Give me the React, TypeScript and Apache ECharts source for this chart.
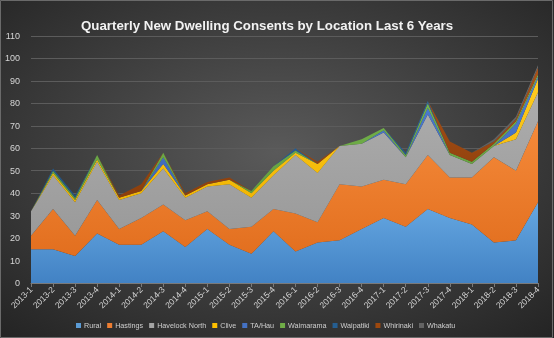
import React, { useEffect, useRef } from "react";
import * as echarts from "echarts";

const quarters = [
  "2013-1", "2013-2", "2013-3", "2013-4",
  "2014-1", "2014-2", "2014-3", "2014-4",
  "2015-1", "2015-2", "2015-3", "2015-4",
  "2016-1", "2016-2", "2016-3", "2016-4",
  "2017-1", "2017-2", "2017-3", "2017-4",
  "2018-1", "2018-2", "2018-3", "2018-4",
];

const rural = [15, 15, 12, 22, 17, 17, 23, 16, 24, 17, 13, 23, 14, 18, 19, 24, 29, 25, 33, 29, 26, 18, 19, 36];
const hastings = [6, 18, 9, 15, 7, 12, 12, 12, 8, 7, 12, 10, 17, 9, 25, 19, 17, 19, 24, 18, 21, 38, 31, 36];
const havelockNorth = [11, 15, 15, 17, 13, 11, 16, 10, 11, 20, 13, 15, 26, 22, 17, 19, 21, 12, 18, 10, 6, 5, 14, 13];
const clive = [0, 1, 1, 1, 1, 1, 2, 1, 1, 2, 2, 2, 1, 4, 0, 0, 0, 0, 0, 0, 0, 0, 3, 6];
const taHau = [0, 0, 0, 0, 0, 0, 3, 0, 0, 0, 0, 0, 0, 0, 0, 0, 1, 0, 3, 0, 0, 0, 4, 1];
const waimarama = [0, 1, 1, 2, 0, 0, 2, 0, 0, 0, 1, 2, 1, 0, 0, 2, 1, 1, 2, 1, 1, 1, 1, 1];
const waipatiki = [0, 1, 1, 0, 0, 0, 0, 0, 0, 0, 0, 0, 1, 0, 0, 0, 0, 1, 1, 0, 0, 0, 0, 0];
const whirinaki = [0, 0, 0, 0, 1, 3, 0, 1, 1, 1, 0, 0, 0, 1, 0, 0, 0, 0, 0, 5, 4, 1, 1, 3];
const whakatu = [0, 0, 0, 0, 0, 0, 0, 0, 0, 0, 0, 0, 0, 0, 0, 0, 0, 0, 0, 0, 0, 1, 1, 1];

const seriesNames = ["Rural", "Hastings", "Havelock North", "Clive", "TA/Hau", "Waimarama", "Waipatiki", "Whirinaki", "Whakatu"];
const seriesData = [rural, hastings, havelockNorth, clive, taHau, waimarama, waipatiki, whirinaki, whakatu];
const seriesColors = ["#5B9BD5", "#ED7D31", "#A5A5A5", "#FFC000", "#4472C4", "#70AD47", "#255E91", "#9E480E", "#636363"];
const topColors = ["#66a8e2", "#f58a3a", "#adadad", "#ffcc22", "#4f7fd4", "#7aba50", "#2d6aa3", "#aa5218", "#6e6e6e"];
const bottomColors = ["#4282c4", "#e26f1f", "#9a9a9a", "#f0b400", "#3a62b0", "#609a3c", "#1f5080", "#8a3d0a", "#575757"];

const yMin = 0;
const yMax = 110;
const yInterval = 10;

export default function App() {
  const ref = useRef<HTMLDivElement>(null);
  useEffect(() => {
    if (!ref.current) return;
    const chart = echarts.init(ref.current, null, { renderer: "svg" });
    const font = "Liberation Sans, Arial, sans-serif";
    chart.setOption({
      animation: false,
      backgroundColor: new echarts.graphic.RadialGradient(0.5, 0.45, 0.75, [
        { offset: 0, color: "#5a5a5a" },
        { offset: 1, color: "#232323" },
      ]),
      title: {
        text: "Quarterly New Dwelling Consents by Location Last 6 Years",
        left: 76,
        top: 14,
        textStyle: { color: "#f2f2f2", fontSize: 13.3, fontWeight: "bold", fontFamily: font },
      },
      grid: { left: 31, right: 16, top: 36, bottom: 55, containLabel: false },
      legend: {
        bottom: 4,
        left: 71,
        itemWidth: 5,
        itemHeight: 5,
        itemGap: 6,
        icon: "rect",
        textStyle: { color: "#cfcfcf", fontSize: 7.2, fontFamily: font, padding: [0, 0, 0, -2] },
        data: seriesNames,
      },
      xAxis: {
        type: "category",
        data: quarters,
        boundaryGap: false,
        axisLine: { show: true, lineStyle: { color: "#7a7a7a" } },
        axisTick: { show: true, alignWithLabel: true, length: 4, lineStyle: { color: "#7a7a7a" } },
        axisLabel: { rotate: 45, color: "#d6d6d6", fontSize: 8.5, fontFamily: font, margin: 5, interval: 0 },
        splitLine: { show: false },
      },
      yAxis: {
        type: "value",
        min: yMin,
        max: yMax,
        interval: yInterval,
        axisLine: { show: false },
        axisTick: { show: false },
        axisLabel: { color: "#d6d6d6", fontSize: 9, fontFamily: font, margin: 11 },
        splitLine: { lineStyle: { color: "#5c5c5c", width: 1 } },
      },
      graphic: [
        {
          type: "rect",
          shape: { x: 0.5, y: 0.5, width: 552, height: 337 },
          style: { fill: "none", stroke: "#6a6a6a", lineWidth: 1 },
          silent: true,
          z: 100,
        },
      ],
      series: seriesNames.map((name, i) => ({
        name,
        type: "line",
        stack: "total",
        data: seriesData[i],
        symbol: "none",
        lineStyle: { width: 0 },
        itemStyle: { color: seriesColors[i] },
        areaStyle: {
          opacity: 1,
          color: new echarts.graphic.LinearGradient(0, 0, 0, 1, [
            { offset: 0, color: topColors[i] },
            { offset: 1, color: bottomColors[i] },
          ]),
        },
      })),
    });
    return () => chart.dispose();
  }, []);
  return (
    <div
      ref={ref}
      style={{ position: "fixed", left: 0, top: 0, width: 554, height: 338 }}
    />
  );
}
